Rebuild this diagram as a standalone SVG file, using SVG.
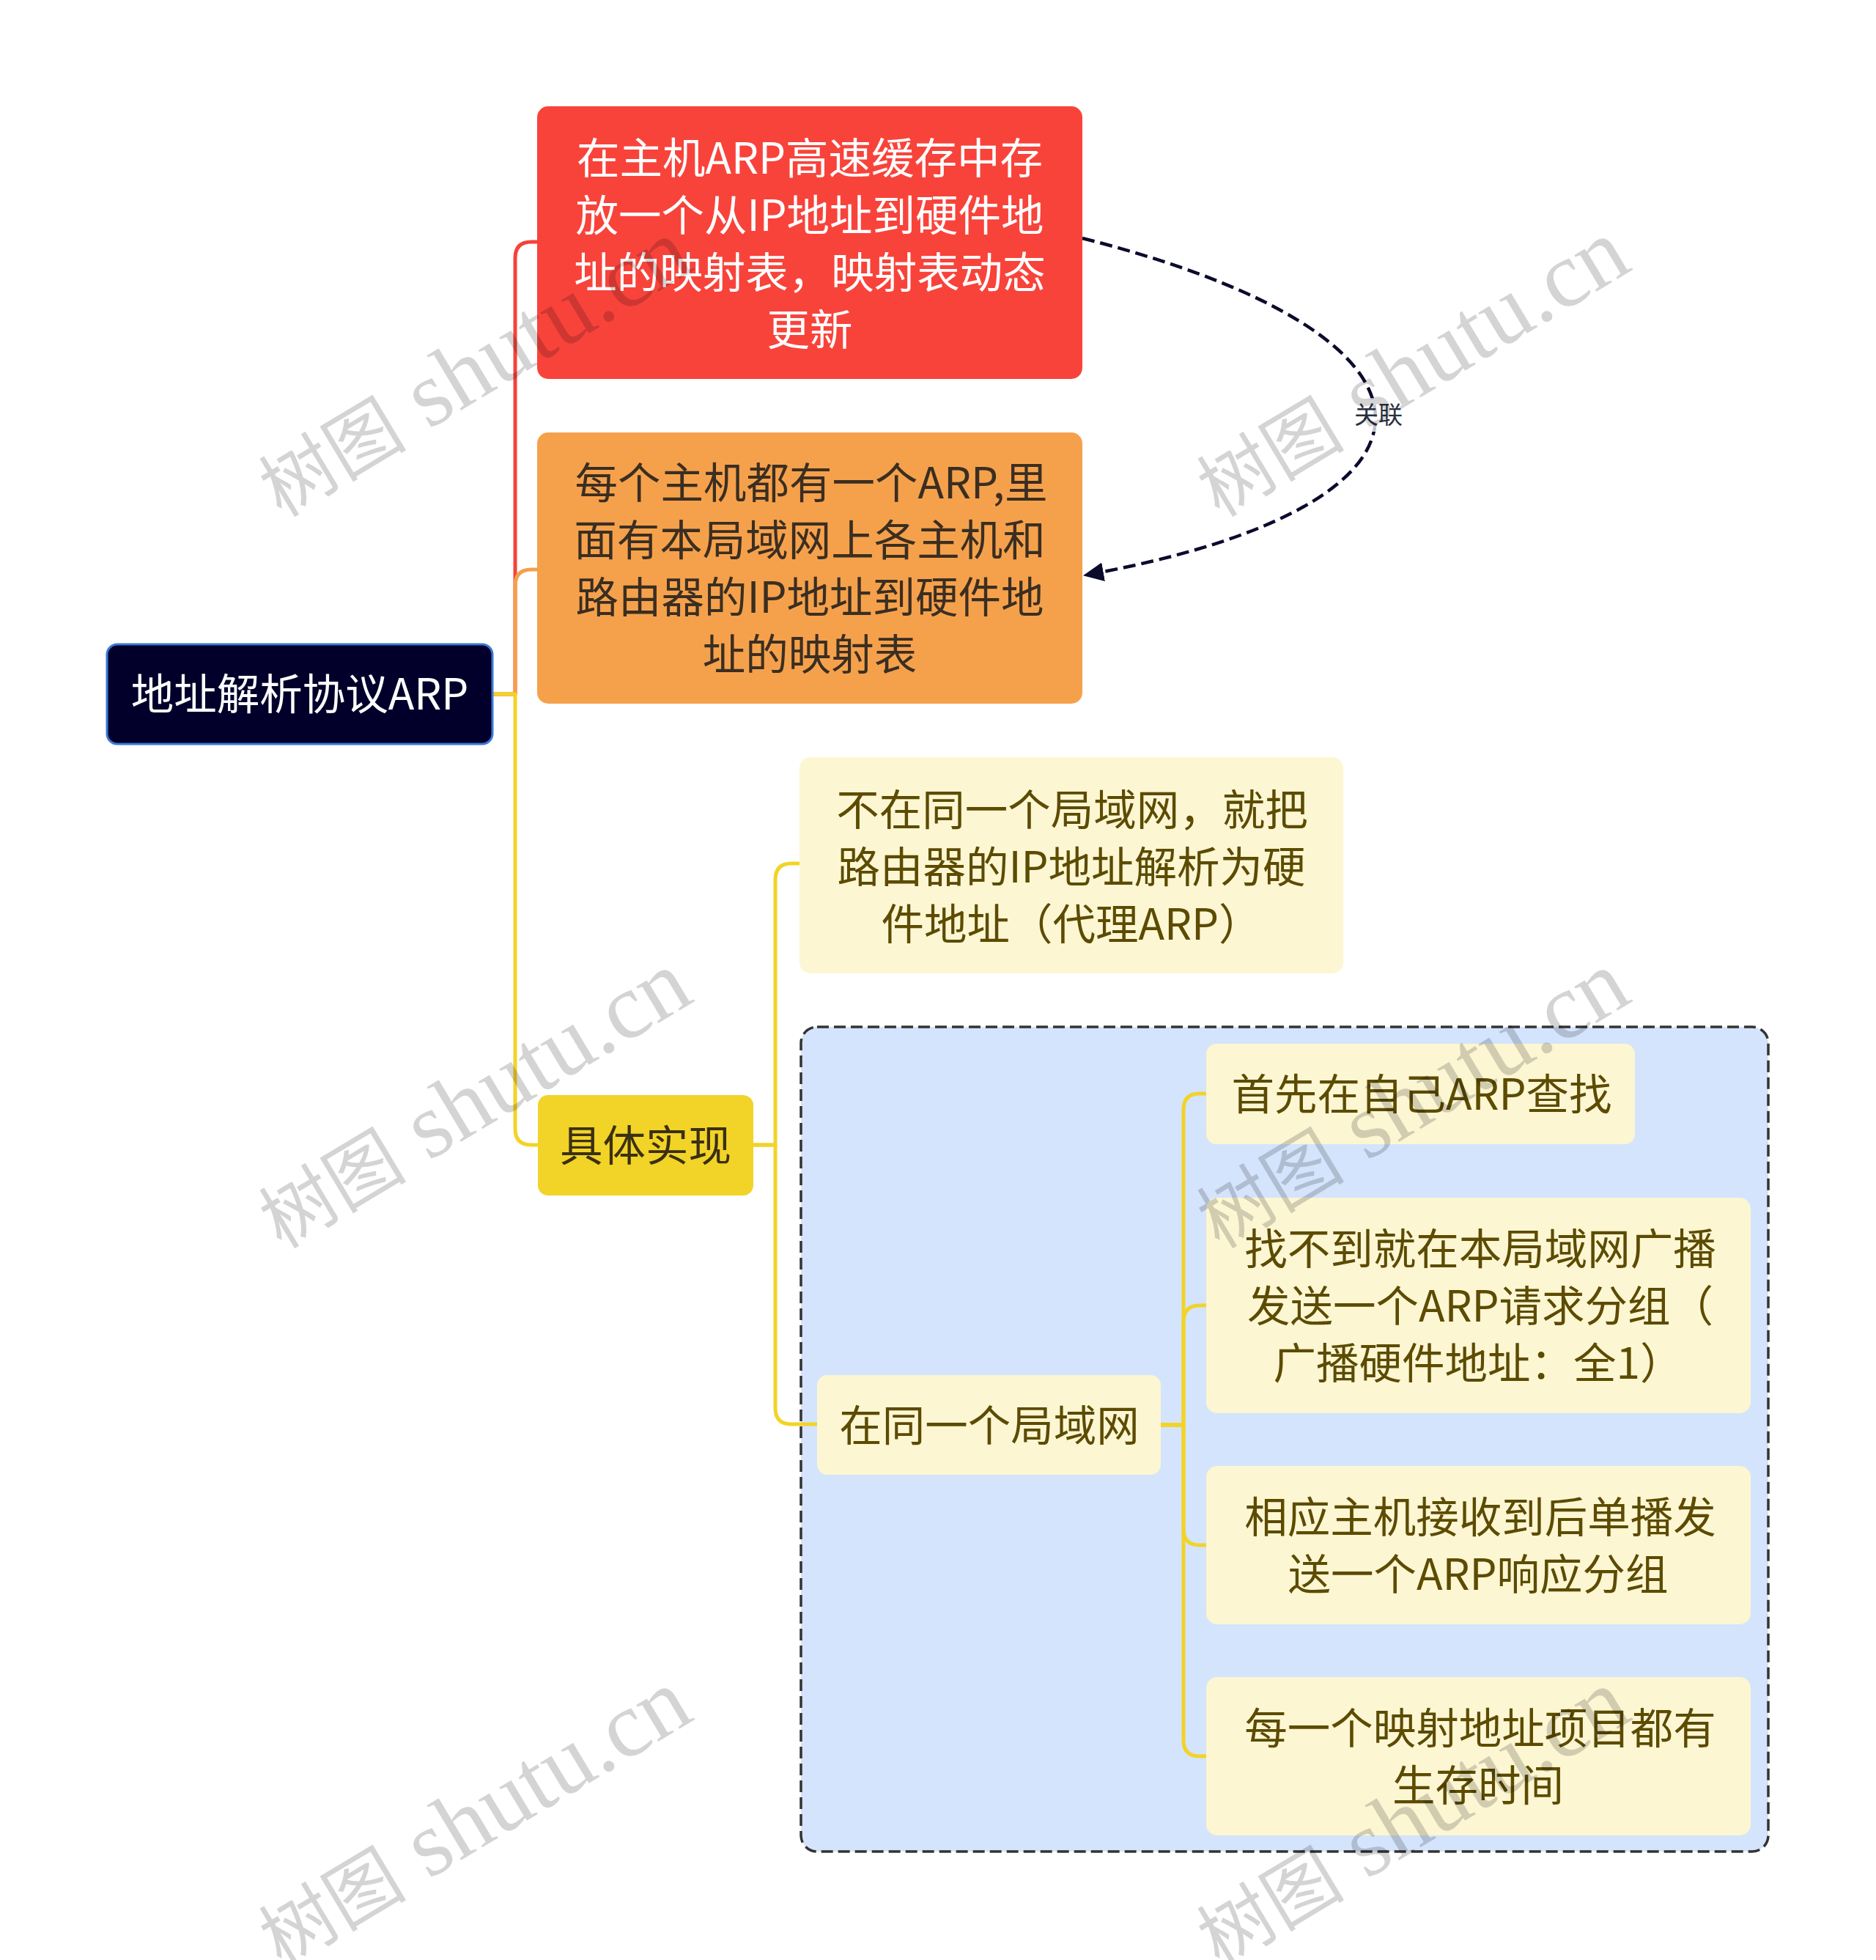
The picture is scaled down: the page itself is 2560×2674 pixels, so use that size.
<svg xmlns="http://www.w3.org/2000/svg" width="2560" height="2674" viewBox="0 0 2560 2674">
<style>
.t{font-family:"Noto Sans CJK SC","Noto Sans",sans-serif;font-size:58.5px;text-anchor:middle}
.w{fill:#ffffff}
.dk{fill:#3b2e21}
.ol{fill:#5c4b00}
.conn{fill:none;stroke-width:5;stroke-linejoin:round}
.wm{font-family:"Liberation Serif","Noto Sans CJK SC",serif;font-size:127px;fill:#000;fill-opacity:0.17}
.wc{font-size:101px}
</style>
<defs>
<marker id="arrow" markerWidth="28" markerHeight="26" refX="27" refY="13" orient="auto" markerUnits="userSpaceOnUse">
<path d="M0,0 L28,13 L0,26 Z" fill="#0b0b2e"/>
</marker>
</defs>
<rect x="0" y="0" width="2560" height="2674" fill="#ffffff"/>

<g id="group-box">
<rect x="1093" y="1401" width="1320" height="1125" rx="22" fill="#d4e4fc" stroke="#333333" stroke-width="3.5" stroke-dasharray="16 7"/>
</g>

<g id="connectors">
<path class="conn" stroke="#f4433b" d="M672,947 H703 V352 Q703,330 725,330 H736"/>
<path class="conn" stroke="#f5a04b" d="M672,947 H703 V799 Q703,777 725,777 H736"/>
<path class="conn" stroke="#f2d327" d="M672,947 H703 V1540 Q703,1562 725,1562 H736"/>
<path class="conn" stroke="#f2d327" d="M1028,1562 H1058 V1200 Q1058,1178 1080,1178 H1092"/>
<path class="conn" stroke="#f2d327" d="M1028,1562 H1058 V1921 Q1058,1943 1080,1943 H1116"/>
<path class="conn" stroke="#f2d327" d="M1584,1944 H1615 V1514 Q1615,1492 1637,1492 H1647"/>
<path class="conn" stroke="#f2d327" d="M1584,1944 H1615 V1803 Q1615,1781 1637,1781 H1647"/>
<path class="conn" stroke="#f2d327" d="M1584,1944 H1615 V2086 Q1615,2108 1637,2108 H1647"/>
<path class="conn" stroke="#f2d327" d="M1584,1944 H1615 V2374 Q1615,2396 1637,2396 H1647"/>
<g id="relation">
<path d="M1477,325 C2010,460 2010,690 1479,785" fill="none" stroke="#0b0b2e" stroke-width="4.5" stroke-dasharray="17 8" marker-end="url(#arrow)"/>
<rect x="1843" y="543" width="78" height="46" fill="#ffffff" fill-opacity="0.75"/>
<text x="1881" y="578" font-family="Noto Sans CJK SC,Noto Sans,sans-serif" font-size="33" text-anchor="middle" fill="#283040">关联</text>
</g>
</g>

<g id="node-root">
<rect x="146" y="879" width="526" height="136" rx="14" fill="#02002a" stroke="#3a78d8" stroke-width="3"/>
<text class="t w" x="409" y="968">地址解析协议ARP</text>
</g>

<g id="node-red">
<rect x="733" y="145" width="744" height="372" rx="15" fill="#f8433b"/>
<text class="t w"><tspan x="1105" y="237">在主机ARP高速缓存中存</tspan><tspan x="1105" y="315">放一个从IP地址到硬件地</tspan><tspan x="1105" y="393">址的映射表，映射表动态</tspan><tspan x="1105" y="471">更新</tspan></text>
</g>

<g id="node-orange">
<rect x="733" y="590" width="744" height="370" rx="15" fill="#f5a14c"/>
<text class="t dk"><tspan x="1107" y="680">每个主机都有一个ARP,里</tspan><tspan x="1105" y="758">面有本局域网上各主机和</tspan><tspan x="1105" y="836">路由器的IP地址到硬件地</tspan><tspan x="1105" y="914">址的映射表</tspan></text>
</g>

<g id="node-impl">
<rect x="734" y="1494" width="294" height="137" rx="14" fill="#f2d327"/>
<text class="t" fill="#3a3012" x="881" y="1584">具体实现</text>
</g>

<g id="node-other-lan">
<rect x="1091" y="1033" width="742" height="295" rx="15" fill="#fcf6d3"/>
<text class="t ol"><tspan x="1463" y="1126">不在同一个局域网，就把</tspan><tspan x="1462" y="1204">路由器的IP地址解析为硬</tspan><tspan x="1462" y="1282">件地址（代理ARP）</tspan></text>
</g>

<g id="node-same-lan">
<rect x="1115" y="1876" width="469" height="136" rx="14" fill="#fcf6d3"/>
<text class="t ol" x="1350" y="1966">在同一个局域网</text>
</g>

<g id="node-step1">
<rect x="1646" y="1424" width="585" height="137" rx="14" fill="#fcf6d3"/>
<text class="t ol" x="1940" y="1514">首先在自己ARP查找</text>
</g>

<g id="node-step2">
<rect x="1646" y="1634" width="743" height="294" rx="15" fill="#fcf6d3"/>
<text class="t ol"><tspan x="2020" y="1725">找不到就在本局域网广播</tspan><tspan x="2020" y="1803">发送一个ARP请求分组（</tspan><tspan x="2017" y="1881">广播硬件地址：全1）</tspan></text>
</g>

<g id="node-step3">
<rect x="1646" y="2000" width="743" height="216" rx="15" fill="#fcf6d3"/>
<text class="t ol"><tspan x="2020" y="2091">相应主机接收到后单播发</tspan><tspan x="2017" y="2169">送一个ARP响应分组</tspan></text>
</g>

<g id="node-step4">
<rect x="1646" y="2288" width="743" height="216" rx="15" fill="#fcf6d3"/>
<text class="t ol"><tspan x="2020" y="2379">每一个映射地址项目都有</tspan><tspan x="2017" y="2457">生存时间</tspan></text>
</g>

<g id="watermarks">
<text class="wm" x="384" y="707" transform="rotate(-31 384 707)"><tspan class="wc">树图</tspan> shutu.cn</text>
<text class="wm" x="1664" y="707" transform="rotate(-31 1664 707)"><tspan class="wc">树图</tspan> shutu.cn</text>
<text class="wm" x="384" y="1705" transform="rotate(-31 384 1705)"><tspan class="wc">树图</tspan> shutu.cn</text>
<text class="wm" x="1664" y="1705" transform="rotate(-31 1664 1705)"><tspan class="wc">树图</tspan> shutu.cn</text>
<text class="wm" x="384" y="2685" transform="rotate(-31 384 2685)"><tspan class="wc">树图</tspan> shutu.cn</text>
<text class="wm" x="1664" y="2685" transform="rotate(-31 1664 2685)"><tspan class="wc">树图</tspan> shutu.cn</text>
</g>
</svg>
